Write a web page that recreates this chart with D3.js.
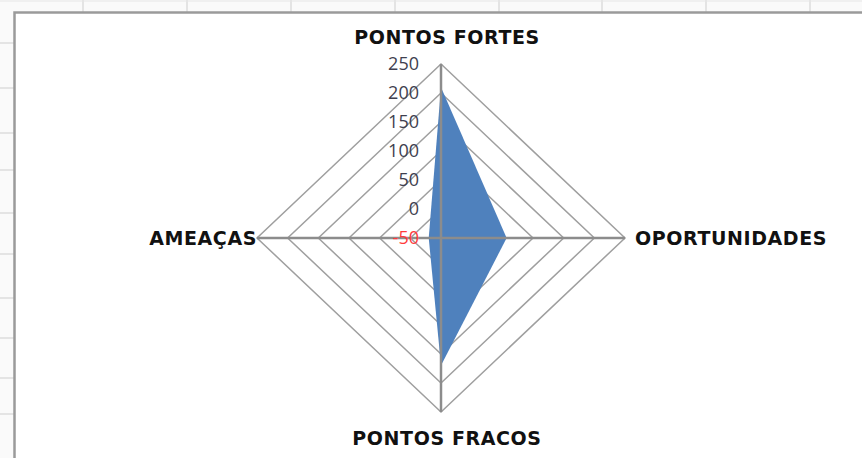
<!DOCTYPE html>
<html lang="pt">
<head>
  <meta charset="UTF-8">
  <title>Análise SWOT</title>
  <style>
    body { margin: 0; background: #fff; }
    svg text { font-family: "Open Sans", Arial, sans-serif; }
    svg text.cat { font-family: "DejaVu Sans", Arial, sans-serif; }
  </style>
</head>
<body>
  <svg id="chart" width="862" height="458"></svg>

  <script src="https://d3js.org/d3.v7.min.js"></script>
  <script>
    // chart data
    const categories = ["PONTOS FORTES", "OPORTUNIDADES", "PONTOS FRACOS", "AMEAÇAS"];
    const values = [210, 57, 170, -30];
    const tickValues = [-50, 0, 50, 100, 150, 200, 250];

    // spreadsheet cell lines behind the chart object
    const colLines = [83, 187, 291, 395, 499, 602, 706, 810];
    const rowLines = [43, 88, 133, 170, 213, 254, 298, 338, 378, 414];

    const svg = d3.select("#chart");
    const cx = 441, cy = 238;

    // background sheet
    svg.append("rect").attr("width", 862).attr("height", 458).attr("fill", "#fafafa");
    svg.selectAll(".col").data(colLines).enter().append("line")
      .attr("x1", d => d).attr("x2", d => d).attr("y1", 0).attr("y2", 13)
      .attr("stroke", "#dcdcdc").attr("stroke-width", 1.5);
    svg.selectAll(".row").data(rowLines).enter().append("line")
      .attr("x1", 0).attr("x2", 14).attr("y1", d => d).attr("y2", d => d)
      .attr("stroke", "#dcdcdc").attr("stroke-width", 1.5);
    svg.append("line").attr("x1", 0).attr("x2", 862).attr("y1", 1).attr("y2", 1)
      .attr("stroke", "#e6e6e6");

    // chart area
    svg.append("rect")
      .attr("x", 14.5).attr("y", 12.5).attr("width", 900).attr("height", 500)
      .attr("fill", "#fff").attr("stroke", "#9a9a9a").attr("stroke-width", 2.5);

    // scales
    const rx = d3.scaleLinear().domain([-50, 250]).range([0, 184]);
    const ry = d3.scaleLinear().domain([-50, 250]).range([0, 174]);
    const angle = d3.scalePoint().domain(categories).range([0, 2 * Math.PI * 3 / 4]);

    function pt(cat, v) {
      const a = angle(cat);
      return [cx + Math.sin(a) * rx(v), cy - Math.cos(a) * ry(v)];
    }

    // rings
    svg.selectAll(".ring").data(tickValues.slice(1)).enter().append("polygon")
      .attr("points", v => categories.map(c => pt(c, v).join(",")).join(" "))
      .attr("fill", "none").attr("stroke", "#9f9f9f").attr("stroke-width", 1.5);

    // series
    svg.append("polygon")
      .attr("points", categories.map((c, i) => pt(c, values[i]).join(",")).join(" "))
      .attr("fill", "#4f81bd");

    // spokes
    svg.selectAll(".spoke").data(categories).enter().append("line")
      .attr("x1", cx).attr("y1", cy)
      .attr("x2", c => pt(c, 250)[0]).attr("y2", c => pt(c, 250)[1])
      .attr("stroke", "#8c8c8c").attr("stroke-width", 2.5);

    // value axis labels
    svg.selectAll(".tick").data(tickValues).enter().append("text")
      .attr("x", 419).attr("y", v => cy - ry(v))
      .attr("dy", "0.35em").attr("text-anchor", "end")
      .attr("font-size", 18)
      .attr("fill", v => v < 0 ? "#ff3b3b" : "#3f3f4f")
      .text(d => d);

    // category labels
    const labelPos = [
      { x: cx + 6, y: 37, anchor: "middle" },
      { x: 635, y: cy, anchor: "start" },
      { x: cx + 6, y: 438, anchor: "middle" },
      { x: 257, y: cy, anchor: "end" }
    ];
    svg.selectAll(".cat").data(categories).enter().append("text")
      .attr("class", "cat")
      .attr("x", (d, i) => labelPos[i].x).attr("y", (d, i) => labelPos[i].y)
      .attr("dy", "0.35em").attr("text-anchor", (d, i) => labelPos[i].anchor)
      .attr("font-size", 19).attr("font-weight", "bold")
      .attr("letter-spacing", 0.6)
      .attr("fill", "#111")
      .text(d => d);
  </script>
</body>
</html>
